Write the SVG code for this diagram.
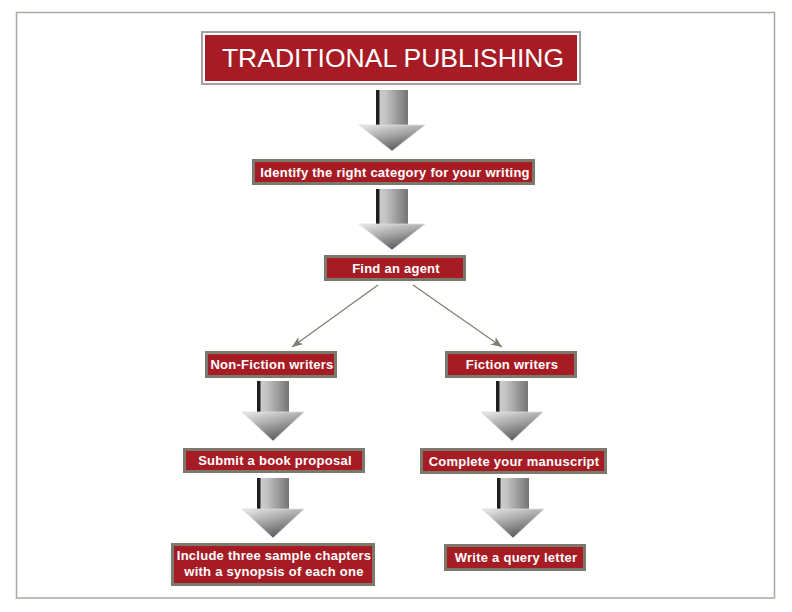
<svg xmlns="http://www.w3.org/2000/svg" width="792" height="612" viewBox="0 0 792 612">
<style>
.box{fill:#a71c24;stroke:#7b786c;stroke-width:3}
.lbl{font-family:"Liberation Sans",Arial,sans-serif;font-weight:bold;font-size:13px;letter-spacing:0.25px;fill:#ffffff;text-anchor:middle}
.title{font-family:"Liberation Sans",Arial,sans-serif;font-size:26.5px;fill:#ffffff;text-anchor:middle}
.conn{stroke:#7f7d70;stroke-width:1.2;fill:none}
</style>
<defs>
<linearGradient id="shaftGrad" x1="0" y1="0" x2="1" y2="0">
<stop offset="0" stop-color="#cfcfcf"/>
<stop offset="0.3" stop-color="#c4c4c4"/>
<stop offset="1" stop-color="#747474"/>
</linearGradient>
<linearGradient id="headGrad" x1="0" y1="0" x2="0.5" y2="1">
<stop offset="0" stop-color="#ececec"/>
<stop offset="0.5" stop-color="#a6a6a6"/>
<stop offset="1" stop-color="#5a5a5a"/>
</linearGradient>
<marker id="ah" markerUnits="userSpaceOnUse" markerWidth="12" markerHeight="10" refX="11" refY="4.5" orient="auto" viewBox="0 0 12 10">
<path d="M0,0 L11,4.5 L0,9 L3,4.5 z" fill="#7f7d70"/>
</marker>
<g id="arrowA">
<rect x="-16" y="0" width="32" height="37" fill="url(#shaftGrad)"/>
<rect x="-16" y="0" width="3.5" height="37" fill="#1e1e1e"/>
<polygon points="-33,35 33,35 0,61" fill="url(#headGrad)" stroke="#dcdcdc" stroke-width="0.8"/>
</g>
<g id="arrowB">
<rect x="-16" y="0" width="32" height="33" fill="url(#shaftGrad)"/>
<rect x="-16" y="0" width="3.5" height="33" fill="#1e1e1e"/>
<polygon points="-31,31 31,31 0,60" fill="url(#headGrad)" stroke="#dcdcdc" stroke-width="0.8"/>
</g>
</defs>
<rect x="0" y="0" width="792" height="612" fill="#ffffff"/>
<rect x="16.5" y="12.5" width="758" height="585.5" fill="#ffffff" stroke="#aaa9a2" stroke-width="1.5"/>

<g id="connectors">
<line class="conn" x1="378" y1="285" x2="292" y2="347" marker-end="url(#ah)"/>
<line class="conn" x1="413" y1="285" x2="502" y2="347" marker-end="url(#ah)"/>
<use href="#arrowA" transform="translate(392,90)"/>
<use href="#arrowA" transform="translate(392,189)"/>
<use href="#arrowB" transform="translate(273,381)"/>
<use href="#arrowB" transform="translate(273,478)"/>
<use href="#arrowB" transform="translate(512,381)"/>
<use href="#arrowB" transform="translate(513,478)"/>
</g>

<g id="title">
<rect x="202" y="32" width="378" height="52" fill="#ffffff" stroke="#a3a19a" stroke-width="2"/>
<rect x="205" y="35" width="372" height="46" fill="#a71c24"/>
<text class="title" x="393" y="67">TRADITIONAL PUBLISHING</text>
</g>

<g id="identify">
<rect class="box" x="253.5" y="160.5" width="280" height="23"/>
<text class="lbl" x="395" y="176.5">Identify the right category for your writing</text>
</g>

<g id="agent">
<rect class="box" x="325.5" y="256.5" width="139" height="23"/>
<text class="lbl" x="396" y="272.5">Find an agent</text>
</g>

<g id="nonfiction">
<rect class="box" x="206.5" y="352.5" width="129" height="24"/>
<text class="lbl" x="272" y="369">Non-Fiction writers</text>
</g>

<g id="fiction">
<rect class="box" x="446.5" y="352.5" width="129" height="24"/>
<text class="lbl" x="512" y="369">Fiction writers</text>
</g>

<g id="proposal">
<rect class="box" x="184.5" y="449.5" width="179" height="22"/>
<text class="lbl" x="275" y="465">Submit a book proposal</text>
</g>

<g id="manuscript">
<rect class="box" x="421.5" y="449.5" width="184" height="23"/>
<text class="lbl" x="514" y="465.5">Complete your manuscript</text>
</g>

<g id="chapters">
<rect class="box" x="172.5" y="544.5" width="201" height="40"/>
<text class="lbl" x="274" y="560">Include three sample chapters</text>
<text class="lbl" x="274" y="576">with a synopsis of each one</text>
</g>

<g id="query">
<rect class="box" x="445.5" y="545.5" width="139" height="24"/>
<text class="lbl" x="516" y="562">Write a query letter</text>
</g>
</svg>
